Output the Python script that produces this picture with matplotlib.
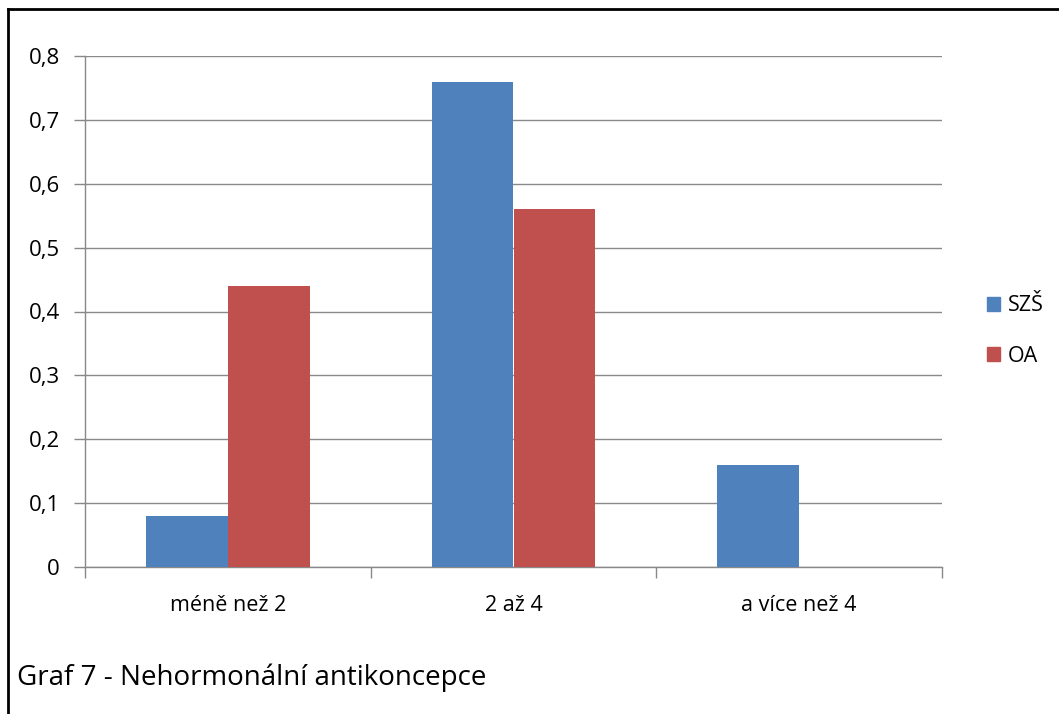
import numpy as np
import matplotlib
matplotlib.use("Agg")
import matplotlib.pyplot as plt
from matplotlib.lines import Line2D
from matplotlib.patches import Patch

categories = ["méně než 2", "2 až 4", "a více než 4"]
szs = [0.08, 0.76, 0.16]
oa = [0.44, 0.56, 0.0]
series_names = ["SZŠ", "OA"]
yticks = [0, 0.1, 0.2, 0.3, 0.4, 0.5, 0.6, 0.7, 0.8]
caption = "Graf 7 - Nehormonální antikoncepce"

blue = "#4F81BD"
red = "#C0504D"
grid = "#898989"

plt.rcParams["font.family"] = ["Open Sans", "DejaVu Sans"]

fig = plt.figure(figsize=(10.59, 7.14), dpi=100)
ax = fig.add_axes([85 / 1059, 1 - 567 / 714, 857 / 1059, 511 / 714])

x = np.arange(len(categories))
width = 0.287
ax.bar(x - width / 2, szs, width, color=blue, zorder=3)
ax.bar(x + width / 2, oa, width, color=red, zorder=3)

ax.set_xlim(-0.5, len(categories) - 0.5)
ax.set_ylim(0, 0.8)
ax.set_yticks(yticks)
ax.set_yticklabels([("%g" % v).replace(".", ",") for v in yticks])
ax.yaxis.grid(True, color=grid, linewidth=1.0, zorder=0)

# category labels sit between the boundary ticks
ax.set_xticks(x)
ax.set_xticklabels(categories)
ax.set_xticks(np.arange(-0.5, len(categories)), minor=True)
ax.tick_params(axis="x", which="major", length=0, pad=20, labelsize=15.5)
ax.tick_params(axis="x", which="minor", length=8, width=1.0, color=grid)
ax.tick_params(axis="y", length=8, width=1.0, color=grid, pad=10, labelsize=16)

for side in ["top", "right"]:
    ax.spines[side].set_visible(False)
for side in ["left", "bottom"]:
    ax.spines[side].set_color(grid)
    ax.spines[side].set_linewidth(1.0)

handles = [Patch(color=blue), Patch(color=red)]
fig.legend(handles, series_names, loc="center left",
           bbox_to_anchor=(968 / 1059, 1 - 331 / 714), frameon=False,
           fontsize=15.5, handlelength=0.6, handleheight=0.6,
           handletextpad=0.35, labelspacing=1.35)

fig.text(17 / 1059, 1 - 678 / 714, caption, fontsize=20, va="center", ha="left")

# frame edges along the top and left
fig.add_artist(Line2D([8 / 1059, 1], [1 - 9 / 714, 1 - 9 / 714], color="black", linewidth=2))
fig.add_artist(Line2D([8 / 1059, 8 / 1059], [0, 1 - 9 / 714], color="black", linewidth=2))

fig.savefig("out.png", dpi=100)
